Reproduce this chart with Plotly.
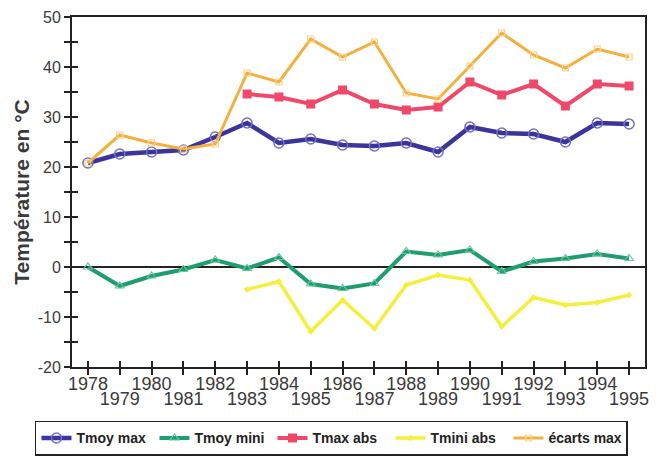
import plotly.graph_objects as go

years = list(range(1978, 1996))

tmoy_max = [20.8, 22.6, 23.0, 23.4, 26.0, 28.8, 24.8, 25.6, 24.4, 24.2,
            24.8, 23.0, 28.0, 26.8, 26.6, 25.0, 28.8, 28.6]
tmoy_mini = [0.0, -3.8, -1.8, -0.5, 1.4, -0.3, 1.9, -3.4, -4.3, -3.3,
             3.1, 2.4, 3.4, -0.9, 1.1, 1.7, 2.6, 1.7]
tmax_abs = [None, None, None, None, None, 34.6, 34.0, 32.6, 35.4, 32.6,
            31.4, 32.0, 37.0, 34.4, 36.6, 32.2, 36.6, 36.2]
tmini_abs = [None, None, None, None, None, -4.5, -2.9, -12.9, -6.6, -12.3,
             -3.6, -1.6, -2.6, -11.9, -6.1, -7.6, -7.1, -5.6]
ecarts_max = [20.8, 26.4, 24.8, 23.6, 24.6, 38.8, 37.0, 45.6, 42.0, 45.0,
              34.8, 33.6, 40.2, 46.8, 42.4, 39.8, 43.6, 42.0]

# even years on the first label row, odd years on the second
even_years = [y for y in years if y % 2 == 0]
odd_years = [y for y in years if y % 2 == 1]
even_labels = [str(y) for y in even_years]
odd_labels = [str(y) for y in odd_years]

y_ticks = list(range(-20, 51, 5))
y_labels = [str(v) if v % 10 == 0 else "" for v in y_ticks]

FONT = "Liberation Sans, Arial, sans-serif"
AX = "#222222"
TXT = "#3a3a3a"
X_RANGE = [1977.5, 1995.5]
Y_RANGE = [-20, 50]

series = [
    ("Tmoy max", tmoy_max, "#3b349c", 4.5, dict(symbol="circle-open", size=10, color="#7070c4", line=dict(width=1.5))),
    ("Tmoy mini", tmoy_mini, "#1e9e6e", 4, dict(symbol="triangle-up-open", size=8, color="#66c4a0", line=dict(width=1.2))),
    ("Tmax abs", tmax_abs, "#f0486a", 4, dict(symbol="square", size=9, color="#f0486a")),
    ("Tmini abs", tmini_abs, "#f4ef3c", 3.5, dict(symbol="diamond", size=5, color="#f4ef3c")),
    ("écarts max", ecarts_max, "#f2b13e", 3, dict(symbol="square-open", size=6, color="#f7cf86", line=dict(width=1.2))),
]

fig = go.Figure()
for name, vals, color, width, marker in series:
    fig.add_trace(go.Scatter(
        x=years, y=vals, name=name, mode="lines+markers",
        line=dict(color=color, width=width), marker=marker,
        connectgaps=False,
    ))

# invisible traces anchoring the helper axes (inward ticks, two label rows)
for xa in ("x2", "x3", "x4"):
    fig.add_trace(go.Scatter(x=years, y=tmoy_max, xaxis=xa, yaxis="y2",
                             mode="lines", line=dict(width=0), showlegend=False,
                             hoverinfo="skip", opacity=0))

label_axis = dict(range=X_RANGE, overlaying="x", matches="x", side="bottom",
                  automargin=False, tickangle=0, showgrid=False, zeroline=False,
                  showline=False, ticks="",
                  tickfont=dict(size=18, family=FONT, color=TXT))

fig.update_layout(
    width=664, height=458,
    margin=dict(l=72, r=19, t=17, b=91, autoexpand=False),
    paper_bgcolor="white", plot_bgcolor="white",
    font=dict(family=FONT, color=TXT),
    xaxis=dict(
        range=X_RANGE, tickvals=years, showticklabels=False,
        automargin=False, showgrid=False, zeroline=False,
        showline=True, linecolor=AX, linewidth=2, mirror=True,
        ticks="outside", ticklen=6, tickwidth=2, tickcolor=AX,
    ),
    yaxis=dict(
        range=Y_RANGE, tickvals=y_ticks, ticktext=y_labels,
        showgrid=False, zeroline=True, zerolinecolor=AX, zerolinewidth=2,
        showline=True, linecolor=AX, linewidth=2, mirror=True,
        ticks="outside", ticklen=6, tickwidth=2, tickcolor=AX,
        tickfont=dict(size=16, family=FONT, color=TXT),
        title=dict(text="<b>Température en °C</b>",
                   font=dict(size=21, family=FONT, color=TXT), standoff=2),
    ),
    xaxis2=dict(range=X_RANGE, overlaying="x", matches="x", tickvals=years,
                automargin=False,
                showticklabels=False, showgrid=False, zeroline=False, showline=False,
                ticks="inside", ticklen=6, tickwidth=2, tickcolor=AX),
    xaxis3=dict(label_axis, tickvals=odd_years, ticktext=odd_labels,
                ticklabelstandoff=19),
    xaxis4=dict(label_axis, tickvals=even_years, ticktext=even_labels,
                ticklabelstandoff=4),
    yaxis2=dict(range=Y_RANGE, overlaying="y", matches="y", tickvals=y_ticks,
                showticklabels=False, showgrid=False, zeroline=False, showline=False,
                ticks="inside", ticklen=6, tickwidth=2, tickcolor=AX),
    legend=dict(
        orientation="h", x=-0.0646, xanchor="left", y=-0.154, yanchor="top",
        bordercolor=AX, borderwidth=1.5, bgcolor="white",
        font=dict(size=14, family=FONT, color="#222222", weight="bold"),
        itemwidth=30, tracegroupgap=0, entrywidth=73,
    ),
    showlegend=True,
)

fig.write_html("out.html")
